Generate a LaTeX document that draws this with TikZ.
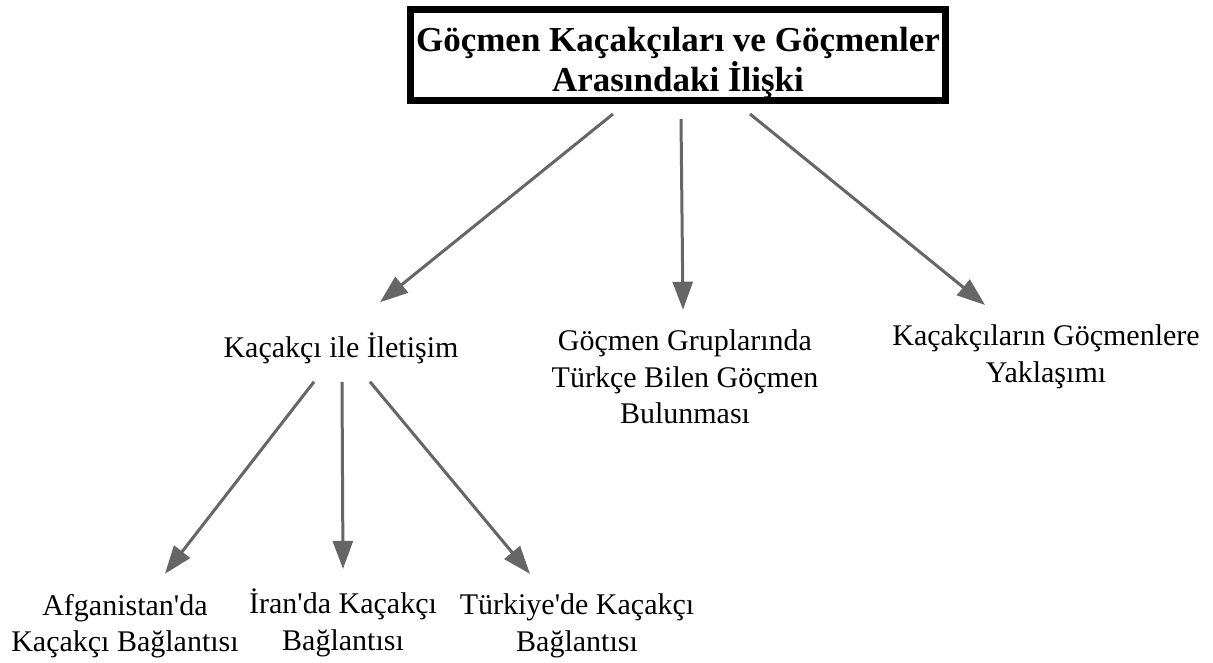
\documentclass[tikz,border=0pt]{standalone}
\usepackage{fontspec}
\setmainfont{Liberation Serif}[Ligatures=TeXOff]
\usetikzlibrary{arrows.meta}
\definecolor{linkgray}{HTML}{666666}
\begin{document}
\begin{tikzpicture}[x=1pt,y=-1pt,
  titlebox/.style={draw=black, line width=7pt, align=center, inner sep=0pt,
    minimum width=535pt, minimum height=91pt,
    font=\bfseries\fontsize{35}{40}\selectfont},
  lbl/.style={align=center, inner sep=0pt, font=\fontsize{30}{36.5}\selectfont},
  link/.style={draw=linkgray, line width=3pt,
    -{Triangle[length=28pt,width=20pt]}}]
\useasboundingbox (0,0) rectangle (1213,663);

% root (the strut lowers the two title lines a little inside the frame)
\node[titlebox] (root) at (678,55) {\rule{0pt}{40pt}Göçmen Kaçakçıları ve Göçmenler\\Arasındaki İlişki};

% first level
\node[lbl] (contact) at (341,348) {Kaçakçı ile İletişim};
\node[lbl] (speaker) at (685,377) {Göçmen Gruplarında\\Türkçe Bilen Göçmen\\Bulunması};
\node[lbl] (approach) at (1046,357) {Kaçakçıların Göçmenlere\\Yaklaşımı};

% second level
\node[lbl] (afg) at (125,626) {Afganistan'da\\Kaçakçı Bağlantısı};
\node[lbl] (iran) at (343,623) {İran'da Kaçakçı\\Bağlantısı};
\node[lbl] (tr) at (577,626) {Türkiye'de Kaçakçı\\Bağlantısı};

% connectors
\draw[link] ([xshift=-65pt,yshift=-10pt]root.south) -- ([xshift=39pt,yshift=30pt]contact.north);
\draw[link] ([xshift=3pt,yshift=-15pt]root.south) -- ([xshift=-2pt,yshift=20pt]speaker.north);
\draw[link] ([xshift=72pt,yshift=-10pt]root.south) -- ([xshift=-61pt,yshift=20pt]approach.north);

\draw[link] ([xshift=-27pt,yshift=-18pt]contact.south) -- ([xshift=40pt,yshift=20pt]afg.north);
\draw[link] ([xshift=1pt,yshift=-18pt]contact.south) -- ([xshift=0pt,yshift=20pt]iran.north);
\draw[link] ([xshift=29pt,yshift=-18pt]contact.south) -- ([xshift=-47pt,yshift=20pt]tr.north);
\end{tikzpicture}
\end{document}
